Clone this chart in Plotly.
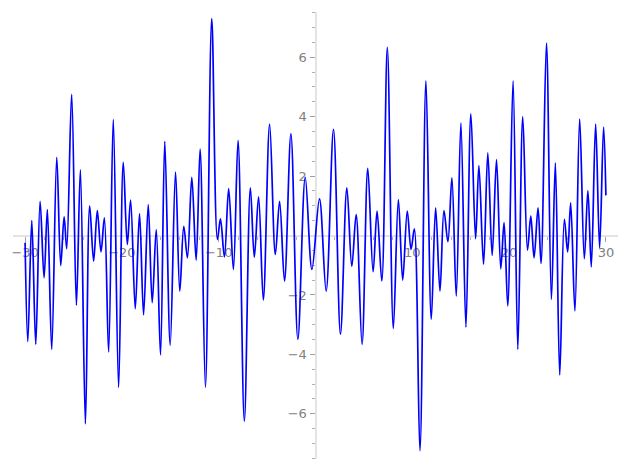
import plotly.graph_objects as go

# Curve turning points (x, y)
x_vals = [-30.0, -29.72, -29.31, -28.90, -28.45, -28.04, -27.70, -27.25, -26.73, -26.32,
          -25.97, -25.70, -25.19, -24.70, -24.29, -23.77, -23.33, -22.92, -22.54, -22.16,
          -21.81, -21.37, -20.89, -20.34, -19.86, -19.44, -19.10, -18.62, -18.18, -17.76,
          -17.28, -16.87, -16.45, -16.01, -15.57, -15.01, -14.46, -14.02, -13.61, -13.23,
          -12.78, -12.33, -11.92, -11.37, -10.72, -10.13, -9.82, -9.41, -8.97, -8.48,
          -8.00, -7.35, -6.73, -6.32, -5.88, -5.39, -4.74, -4.15, -3.71, -3.20,
          -2.54, -1.82, -1.06, -0.37, 0.41, 1.10, 1.86, 2.58, 3.24, 3.75,
          4.20, 4.81, 5.40, 5.95, 6.36, 6.85, 7.42, 8.04, 8.56, 9.01,
          9.48, 9.87, 10.21, 10.79, 11.41, 11.96, 12.41, 12.86, 13.27, 13.68,
          14.09, 14.54, 15.02, 15.54, 16.05, 16.54, 16.88, 17.36, 17.80, 18.25,
          18.70, 19.14, 19.48, 19.86, 20.41, 20.90, 21.41, 21.90, 22.24, 22.58,
          22.99, 23.30, 23.86, 24.37, 24.78, 25.23, 25.71, 26.05, 26.36, 26.80,
          27.29, 27.77, 28.14, 28.49, 28.94, 29.35, 29.76, 30.0]
y_vals = [-0.24, -3.57, 0.50, -3.66, 1.15, -1.42, 0.87, -3.83, 2.63, -1.01,
          0.63, -0.44, 4.75, -2.35, 2.21, -6.34, 1.00, -0.86, 0.84, -0.55,
          0.59, -3.92, 3.91, -5.11, 2.46, -0.30, 1.19, -2.46, 0.74, -2.67,
          1.04, -2.26, 0.20, -4.02, 3.17, -3.69, 2.13, -1.87, 0.31, -0.75,
          1.96, -0.83, 2.91, -5.11, 7.30, -0.13, 0.56, -0.72, 1.58, -1.14,
          3.20, -6.25, 1.60, -0.73, 1.30, -2.17, 3.75, -0.64, 1.15, -1.53,
          3.42, -3.49, 1.96, -1.14, 1.23, -1.87, 3.57, -3.32, 1.60, -1.04,
          0.70, -3.66, 2.26, -1.22, 0.82, -1.53, 6.33, -3.13, 1.21, -1.50,
          0.82, -0.47, 0.22, -7.24, 5.20, -2.82, 0.93, -1.87, 0.84, -0.21,
          1.94, -2.04, 3.78, -3.08, 4.09, -0.11, 2.35, -0.97, 2.78, -0.67,
          2.55, -1.12, 0.43, -2.37, 5.20, -3.83, 4.00, -0.49, 0.65, -0.75,
          0.93, -0.94, 6.47, -2.15, 2.44, -4.69, 0.54, -0.55, 1.10, -2.54,
          3.92, -0.78, 1.51, -1.06, 3.75, -0.41, 3.65, 1.35]

x_ticks = [-30, -20, -10, 10, 20, 30]
x_tick_labels = ["\u221230", "\u221220", "\u221210", "10", "20", "30"]
y_ticks = [-6, -4, -2, 2, 4, 6]
y_tick_labels = ["\u22126", "\u22124", "\u22122", "2", "4", "6"]
x_minor = [v for v in range(-30, 31, 2) if v % 10 != 0]
y_minor = [v / 2 for v in range(-15, 16) if v % 4 != 0]

X_RANGE = [-31.25, 31.25]
Y_RANGE = [-7.52, 7.52]

fig = go.Figure(go.Scatter(
    x=x_vals, y=y_vals, mode="lines",
    line=dict(color="#0000ff", width=1.7, shape="spline", smoothing=1.0),
    hoverinfo="skip",
))

axis_common = dict(
    showgrid=False, zeroline=False, showline=True,
    linecolor="#e3e3e3", linewidth=2, layer="below traces",
    ticks="outside", tickcolor="#a0a0a0", tickwidth=1, ticklen=5,
    tickfont=dict(family="DejaVu Sans", size=13, color="#808080"),
)

fig.update_layout(
    width=627, height=470,
    margin=dict(l=12.7, r=9, t=11.5, b=10.5),
    paper_bgcolor="white", plot_bgcolor="white",
    showlegend=False,
    xaxis=dict(
        range=X_RANGE, anchor="free", position=0.5, side="bottom",
        tickvals=x_ticks, ticktext=x_tick_labels,
        minor=dict(tickvals=x_minor, ticks="outside", ticklen=3, tickcolor="#b0b0b0"),
        **axis_common,
    ),
    yaxis=dict(
        range=Y_RANGE, anchor="free", position=0.5, side="left",
        tickvals=y_ticks, ticktext=y_tick_labels,
        minor=dict(tickvals=y_minor, ticks="outside", ticklen=3, tickcolor="#b0b0b0"),
        **axis_common,
    ),
)

fig.write_html("out.html", config={"displayModeBar": False},
               post_script="document.body.style.margin='0';")
